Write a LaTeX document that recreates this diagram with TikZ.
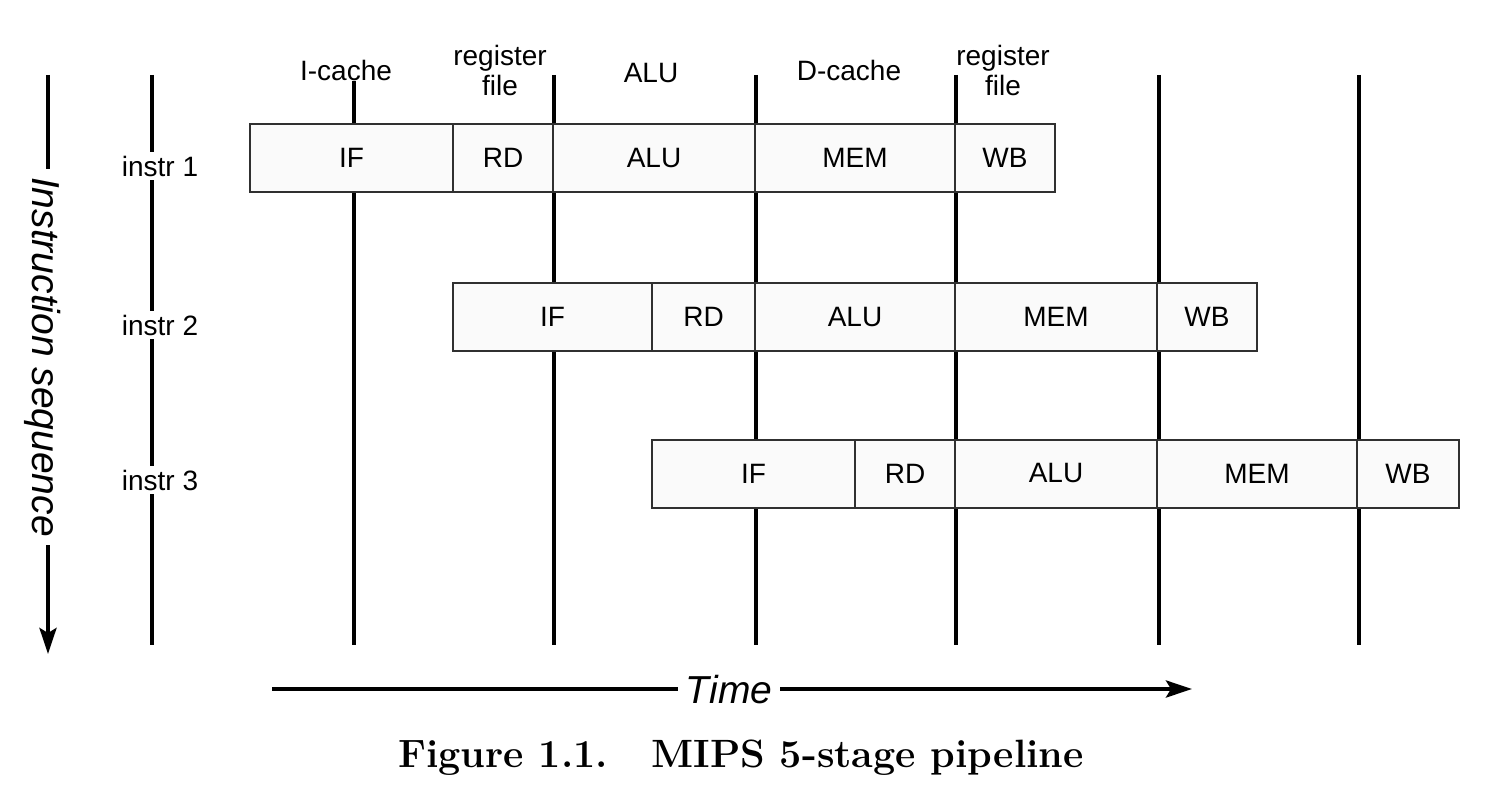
\documentclass[tikz,border=0pt]{standalone}
\usepackage{fontspec}
\usetikzlibrary{arrows.meta}
\newfontfamily\diagsans{Liberation Sans}
\newcommand\lblfont{\diagsans\fontsize{28}{30}\selectfont}
\newcommand\bigfont{\diagsans\itshape\fontsize{39}{42}\selectfont}
\definecolor{cellfill}{HTML}{FAFAFA}
\definecolor{celldraw}{HTML}{303030}
\begin{document}
\begin{tikzpicture}[x=1pt,y=-1pt,
  cell/.style={draw=celldraw, line width=2pt, fill=cellfill, minimum height=68pt,
               inner sep=0pt, font=\lblfont},
  grid/.style={line width=4pt, black},
  toplab/.style={font=\lblfont, align=center, inner sep=1pt},
  rowlab/.style={font=\lblfont, inner sep=4pt},
  biglab/.style={font=\bigfont, inner sep=8pt},
  tip/.style={-{Stealth[length=26pt,width=17pt,inset=5pt]}}]
\useasboundingbox (0,0) rectangle (1490,794);
\fill[white] (0,0) rectangle (1490,794);

% top labels
\node[toplab] (ic) at (346,70) {I-cache};
\node[toplab] (rf1) at (500,70) {register\\file};
\node[toplab] (alu) at (651,73) {ALU};
\node[toplab] (dc) at (849,70) {D-cache};
\node[toplab] (rf2) at (1003,70) {register\\file};

% row labels
\node[rowlab] (i1) at (160,166) {instr 1};
\node[rowlab] (i2) at (160,325) {instr 2};
\node[rowlab] (i3) at (160,480) {instr 3};

% time grid
\coordinate (t1) at (152,75);  \coordinate (b1) at (152,645);
\coordinate (t2) at (354,75);  \coordinate (b2) at (354,645);
\coordinate (t3) at (554,75);  \coordinate (b3) at (554,645);
\coordinate (t4) at (756,75);  \coordinate (b4) at (756,645);
\coordinate (t5) at (956,75);  \coordinate (b5) at (956,645);
\coordinate (t6) at (1159,75); \coordinate (b6) at (1159,645);
\coordinate (t7) at (1359,75); \coordinate (b7) at (1359,645);

\draw[grid] (t1) -- (t1 |- i1.north);
\draw[grid] (t1 |- i1.south) -- (t1 |- i2.north);
\draw[grid] (t1 |- i2.south) -- (t1 |- i3.north);
\draw[grid] (t1 |- i3.south) -- (b1);
\draw[grid] (b2 |- ic.south) -- (b2);
\draw[grid] (t3) -- (b3);
\draw[grid] (t4) -- (b4);
\draw[grid] (t5) -- (b5);
\draw[grid] (t6) -- (b6);
\draw[grid] (t7) -- (b7);

% instr 1
\node[cell, minimum width=203pt] (a1) at (351.5,158) {IF};
\node[cell, minimum width=100pt] (a2) at (503,158) {RD};
\node[cell, minimum width=202pt] (a3) at (654,158) {ALU};
\node[cell, minimum width=200pt] (a4) at (855,158) {MEM};
\node[cell, minimum width=100pt] (a5) at (1005,158) {WB};
% instr 2
\node[cell, minimum width=199pt] (c1) at (552.5,317) {IF};
\node[cell, minimum width=103pt] (c2) at (703.5,317) {RD};
\node[cell, minimum width=200pt] (c3) at (855,317) {ALU};
\node[cell, minimum width=202pt] (c4) at (1056,317) {MEM};
\node[cell, minimum width=100pt] (c5) at (1207,317) {WB};
% instr 3
\node[cell, minimum width=203pt] (d1) at (753.5,473.5) {IF};
\node[cell, minimum width=100pt] (d2) at (905,473.5) {RD};
\node[cell, minimum width=202pt] (d3) at (1056,473.5) {ALU};
\node[cell, minimum width=200pt] (d4) at (1257,473.5) {MEM};
\node[cell, minimum width=102pt] (d5) at (1408,473.5) {WB};

% instruction sequence axis
\node[biglab, rotate=-90] (seq) at (43,357) {Instruction sequence};
\coordinate (st) at (48,75);
\coordinate (se) at (48,654);
\draw[grid] (st) -- (st |- seq.west);
\draw[grid, tip] (st |- seq.east) -- (se);

% time axis
\node[biglab] (time) at (729,690) {Time};
\coordinate (ts) at (272,689);
\coordinate (te) at (1192,689);
\draw[grid] (ts) -- (ts -| time.west);
\draw[grid, tip] (ts -| time.east) -- (te);

% caption
\node[font=\bfseries\fontsize{39.5}{44}\selectfont, inner sep=0pt] (cap) at (741,758)
  {Figure 1.1.\hspace{1.1em}MIPS 5-stage pipeline};
\end{tikzpicture}
\end{document}
